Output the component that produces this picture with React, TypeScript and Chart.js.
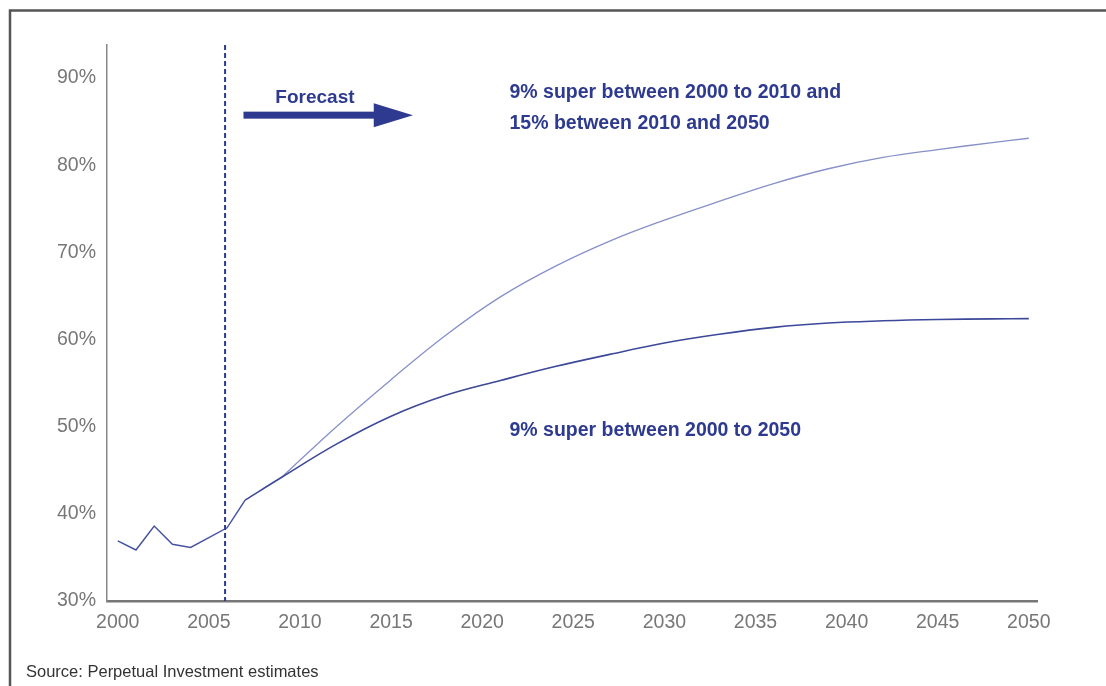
import React, { useEffect, useRef } from 'react';
import { Chart, registerables } from 'chart.js';

Chart.register(...registerables);

// ---- data ----
const historyYears = [2000, 2001, 2002, 2003, 2004, 2006, 2007];
const historyValues = [36.9, 35.85, 38.6, 36.5, 36.15, 38.4, 41.6];

const superNineYears = [2007, 2009, 2012, 2015, 2018, 2021, 2024, 2027, 2030, 2033, 2036, 2039, 2042, 2045, 2048, 2050];
const superNineValues = [41.6, 44.2, 48.0, 51.2, 53.6, 55.3, 56.9, 58.3, 59.6, 60.6, 61.4, 61.9, 62.15, 62.3, 62.37, 62.4];

const superFifteenYears = [2009, 2012, 2015, 2018, 2021, 2024, 2027, 2030, 2033, 2036, 2039, 2042, 2045, 2048, 2050];
const superFifteenValues = [44.2, 50.0, 55.4, 60.5, 64.9, 68.4, 71.3, 73.7, 75.85, 77.9, 79.6, 80.9, 81.8, 82.6, 83.1];

const xTickYears = [2000, 2005, 2010, 2015, 2020, 2025, 2030, 2035, 2040, 2045, 2050];
const yTickValues = [30, 40, 50, 60, 70, 80, 90];

const forecastStartYear = 2006;
const forecastLabel = 'Forecast';
const upperLabelLines = ['9% super between 2000 to 2010 and', '15% between 2010 and 2050'];
const lowerLabel = '9% super between 2000 to 2050';
const sourceText = 'Source: Perpetual Investment estimates';

const NAVY = '#2d3a8f';
const FONT = '"Liberation Sans", Arial, sans-serif';

const toPoints = (xs: number[], ys: number[]) => xs.map((x, i) => ({ x, y: ys[i] }));

const decorPlugin = {
  id: 'decor',
  afterDraw(chart: any) {
    const { ctx, chartArea, scales } = chart;
    const xs = scales.x;
    const ys = scales.y;
    ctx.save();

    // frame (left + top)
    ctx.strokeStyle = '#555555';
    ctx.lineWidth = 2.5;
    ctx.beginPath();
    ctx.moveTo(10, 686);
    ctx.lineTo(10, 10.5);
    ctx.lineTo(1106, 10.5);
    ctx.stroke();

    // dashed forecast line
    const fx = xs.getPixelForValue(forecastStartYear) - 2;
    ctx.strokeStyle = NAVY;
    ctx.lineWidth = 2;
    ctx.setLineDash([5, 3]);
    ctx.beginPath();
    ctx.moveTo(fx, chartArea.top);
    ctx.lineTo(fx, chartArea.bottom);
    ctx.stroke();
    ctx.setLineDash([]);

    // arrow
    const ax0 = xs.getPixelForValue(2006.9);
    const ax1 = xs.getPixelForValue(2014.05);
    const axTip = xs.getPixelForValue(2016.2);
    const ay = ys.getPixelForValue(85.75);
    ctx.fillStyle = NAVY;
    ctx.fillRect(ax0, ay - 3.5, ax1 - ax0 + 1, 7);
    ctx.beginPath();
    ctx.moveTo(ax1, ay - 12);
    ctx.lineTo(axTip, ay);
    ctx.lineTo(ax1, ay + 12);
    ctx.closePath();
    ctx.fill();

    // texts
    ctx.textBaseline = 'middle';
    ctx.textAlign = 'left';
    ctx.fillStyle = NAVY;
    ctx.font = 'bold 19px ' + FONT;
    ctx.fillText(forecastLabel, xs.getPixelForValue(2008.65), ys.getPixelForValue(87.75));

    ctx.font = 'bold 19.5px ' + FONT;
    const lx = xs.getPixelForValue(2021.5);
    ctx.fillText(upperLabelLines[0], lx, ys.getPixelForValue(88.3));
    ctx.fillText(upperLabelLines[1], lx, ys.getPixelForValue(84.8));
    ctx.fillText(lowerLabel, lx, ys.getPixelForValue(49.6));

    ctx.fillStyle = '#333333';
    ctx.font = '16.5px ' + FONT;
    ctx.fillText(sourceText, 26, 672);

    ctx.restore();
  },
};

export default function App() {
  const canvasRef = useRef<HTMLCanvasElement | null>(null);

  useEffect(() => {
    const canvas = canvasRef.current;
    if (!canvas) return;
    const chart = new Chart(canvas, {
      type: 'line',
      data: {
        datasets: [
          {
            label: 'Actual',
            data: toPoints(historyYears, historyValues),
            borderColor: '#4653a3',
            borderWidth: 1.5,
            pointRadius: 0,
            tension: 0,
          },
          {
            label: '9% super between 2000 to 2050',
            data: toPoints(superNineYears, superNineValues),
            borderColor: '#3c4898',
            borderWidth: 1.6,
            pointRadius: 0,
            tension: 0.4,
          },
          {
            label: '9% super 2000-2010 and 15% 2010-2050',
            data: toPoints(superFifteenYears, superFifteenValues),
            borderColor: '#8790c8',
            borderWidth: 1.3,
            pointRadius: 0,
            tension: 0.4,
          },
        ],
      },
      options: {
        animation: false,
        responsive: false,
        maintainAspectRatio: false,
        layout: { padding: { left: 0, top: 45, right: 69, bottom: 0 } },
        plugins: {
          legend: { display: false },
          tooltip: { enabled: false },
          title: { display: false },
        },
        scales: {
          x: {
            type: 'linear',
            min: 1999.41,
            max: 2050.45,
            grid: { display: true, color: 'rgba(0,0,0,0)', drawTicks: false },
            border: { display: true, color: '#777777', width: 2.5 },
            ticks: {
              color: '#777777',
              font: { family: FONT, size: 19.5 },
              padding: 10,
              maxRotation: 0,
              autoSkip: false,
              callback: (v: any) => String(v),
            },
            afterBuildTicks: (scale: any) => {
              scale.ticks = xTickYears.map((v) => ({ value: v }));
            },
            afterFit: (scale: any) => {
              scale.height = 85;
            },
          },
          y: {
            type: 'linear',
            min: 30,
            max: 93.8,
            grid: { display: true, color: 'rgba(0,0,0,0)', drawTicks: false },
            border: { display: true, color: '#888888', width: 1.5 },
            ticks: {
              color: '#777777',
              font: { family: FONT, size: 19.5 },
              padding: 11,
              autoSkip: false,
              callback: (v: any) => v + '%',
            },
            afterBuildTicks: (scale: any) => {
              scale.ticks = yTickValues.map((v) => ({ value: v }));
            },
            afterFit: (scale: any) => {
              scale.width = 107;
            },
          },
        },
      },
      plugins: [decorPlugin],
    });
    return () => chart.destroy();
  }, []);

  return (
    <div style={{ position: 'absolute', left: 0, top: 0, width: 1106, height: 686, background: '#ffffff' }}>
      <canvas ref={canvasRef} width={1106} height={686} style={{ display: 'block', width: 1106, height: 686 }} />
    </div>
  );
}
